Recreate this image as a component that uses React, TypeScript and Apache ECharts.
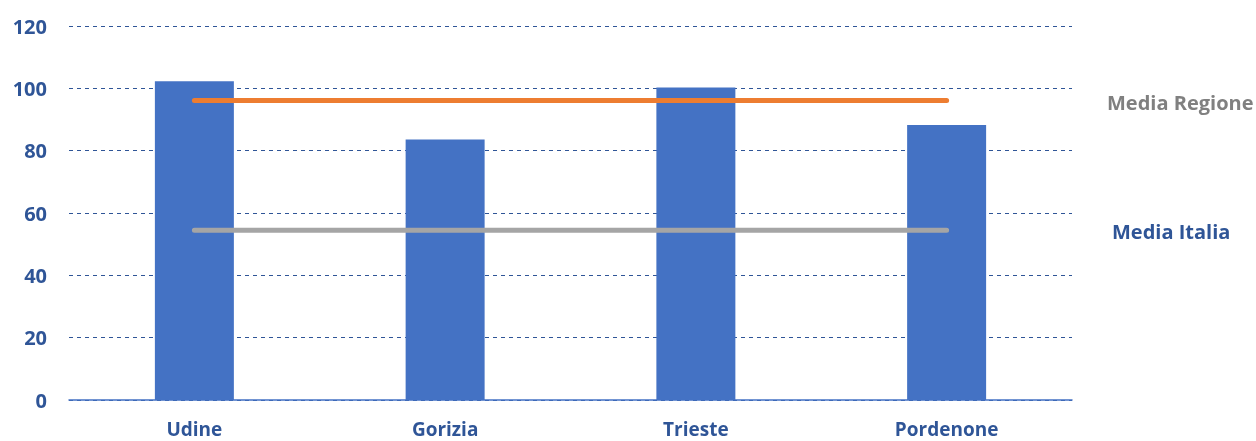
import React, { useEffect, useRef } from "react";
import * as echarts from "echarts";

const categories = ["Udine", "Gorizia", "Trieste", "Pordenone"];
const values = [102.3, 83.6, 100.3, 88.2];
const mediaRegione = [96.1, 96.1, 96.1, 96.1];
const mediaItalia = [54.5, 54.5, 54.5, 54.5];
const yTicks = { min: 0, max: 120, interval: 20 };
const labelRegione = "Media Regione";
const labelItalia = "Media Italia";

const FONT = "'Open Sans', Lato, sans-serif";
const BLUE_TEXT = "#2F5597";

export default function App() {
  const ref = useRef<HTMLDivElement>(null);
  useEffect(() => {
    if (!ref.current) return;
    const chart = echarts.init(ref.current, undefined, { renderer: "svg" });
    chart.setOption({
      animation: false,
      grid: { left: 69, right: 184, top: 26, bottom: 41 },
      xAxis: {
        type: "category",
        data: categories,
        axisTick: { show: false },
        axisLine: { lineStyle: { color: "#4472C4", width: 1.5 } },
        axisLabel: {
          color: BLUE_TEXT,
          fontFamily: FONT,
          fontWeight: "bold",
          fontSize: 19,
          lineHeight: 16,
          margin: 21,
        },
      },
      yAxis: {
        type: "value",
        min: yTicks.min,
        max: yTicks.max,
        interval: yTicks.interval,
        axisLine: { show: false },
        axisTick: { show: false },
        axisLabel: {
          color: BLUE_TEXT,
          fontFamily: FONT,
          fontWeight: "bold",
          fontSize: 20,
          margin: 22,
        },
        splitLine: {
          lineStyle: { color: "#2F5597", type: [4, 4], width: 1 },
        },
      },
      series: [
        {
          type: "bar",
          data: values,
          barWidth: "31.5%",
          itemStyle: { color: "#4472C4" },
          z: 2,
        },
        {
          type: "line",
          data: mediaRegione,
          showSymbol: false,
          symbol: "none",
          lineStyle: { color: "#ED7D31", width: 5, cap: "round" },
          z: 3,
        },
        {
          type: "line",
          data: mediaItalia,
          showSymbol: false,
          symbol: "none",
          lineStyle: { color: "#A5A5A5", width: 5, cap: "round" },
          z: 3,
        },
      ],
      graphic: [
        {
          type: "text",
          x: 1107,
          y: 102,
          style: {
            text: labelRegione,
            fill: "#808080",
            font: `bold 20px ${FONT}`,
            verticalAlign: "middle",
          },
        },
        {
          type: "text",
          x: 1112,
          y: 231,
          style: {
            text: labelItalia,
            fill: BLUE_TEXT,
            font: `bold 20px ${FONT}`,
            verticalAlign: "middle",
          },
        },
      ],
    });
    return () => chart.dispose();
  }, []);
  return (
    <div
      ref={ref}
      style={{ position: "fixed", left: 0, top: 0, width: 1256, height: 441 }}
    />
  );
}
